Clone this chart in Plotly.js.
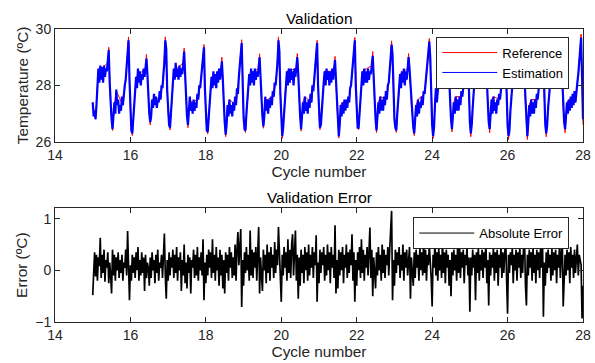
<!DOCTYPE html>
<html>
<head>
<meta charset="utf-8">
<script src="https://cdn.plot.ly/plotly-3.0.1.min.js"></script>
<style>html,body{margin:0;padding:0;background:#fff;}#chart{width:595px;height:363px;}</style>
</head>
<body>
<div id="chart"></div>
<script>
// Sample span (cycle number) of the recorded series
const cycleStart = 15;
const cycleEnd = 28;

// Estimated temperature (ºC), evenly sampled from cycle 15 to 28
const estimation = [
 27.4, 26.9, 27.1, 26.8, 27.3, 28.0, 28.6, 28.1, 28.7, 28.2,
 28.65, 28.1, 28.7, 28.3, 28.6, 28.5, 29.0, 29.25, 28.1, 27.2,
 26.8, 26.45, 27.1, 27.4, 27.0, 27.85, 27.3, 27.5, 27.0, 27.3,
 27.1, 27.6, 27.3, 27.8, 28.0, 28.2, 28.6, 29.0, 29.6, 28.2,

 27.0, 26.4, 26.3, 26.9, 27.5, 28.0, 28.3, 27.9, 28.6, 28.1,
 28.5, 28.0, 28.4, 28.2, 28.6, 28.3, 28.7, 28.95, 28.4, 27.6,
 27.0, 26.7, 26.9, 27.5, 27.2, 27.7, 27.3, 27.6, 27.2, 27.5,
 27.4, 27.8, 27.5, 28.0, 27.9, 28.4, 28.8, 29.6, 29.3, 27.8,

 27.0, 26.6, 26.5, 27.1, 27.6, 28.2, 28.6, 28.2, 28.8, 28.3,
 28.6, 28.2, 28.7, 28.3, 28.6, 28.4, 28.9, 29.2, 28.4, 27.5,
 26.9, 26.6, 27.0, 27.6, 27.1, 27.4, 27.0, 27.5, 27.1, 27.4,
 27.2, 27.7, 27.5, 28.0, 27.9, 28.3, 28.6, 29.0, 29.35, 27.9,

 26.8, 26.4, 26.35, 26.9, 27.4, 27.9, 28.3, 27.9, 28.5, 28.0,
 28.4, 27.9, 28.5, 28.1, 28.6, 28.2, 28.6, 28.85, 28.2, 27.3,
 26.7, 26.25, 26.6, 27.3, 26.9, 27.5, 27.0, 27.3, 26.9, 27.4,
 27.1, 27.6, 27.3, 27.9, 27.7, 28.3, 28.6, 29.1, 29.5, 28.0,

 26.9, 26.45, 26.4, 27.0, 27.5, 28.0, 28.4, 28.0, 28.6, 28.1,
 28.5, 28.0, 28.6, 28.2, 28.5, 28.3, 28.7, 29.0, 28.3, 27.4,
 26.9, 26.55, 26.9, 27.6, 27.1, 27.5, 27.0, 27.5, 27.2, 27.6,
 27.3, 27.8, 27.6, 28.1, 28.0, 28.4, 28.8, 29.6, 29.2, 27.7,

 26.6, 26.2, 26.5, 27.1, 27.7, 28.2, 28.5, 28.0, 28.6, 28.1,
 28.6, 28.2, 28.5, 28.0, 28.6, 28.3, 28.7, 29.0, 28.4, 27.5,
 26.9, 26.45, 26.8, 27.4, 27.0, 27.6, 27.1, 27.4, 27.0, 27.5,
 27.2, 27.7, 27.4, 28.0, 27.8, 28.3, 28.7, 29.1, 29.5, 28.0,

 26.9, 26.5, 26.6, 27.2, 27.8, 28.1, 28.5, 28.0, 28.6, 28.2,
 28.5, 28.0, 28.5, 28.1, 28.6, 28.2, 28.6, 28.9, 28.2, 27.3,
 26.7, 26.2, 26.6, 27.3, 26.9, 27.4, 27.0, 27.5, 27.1, 27.5,
 27.2, 27.6, 27.4, 27.9, 28.0, 28.4, 28.8, 29.2, 29.6, 28.0,

 26.9, 26.5, 26.5, 27.1, 27.7, 28.2, 28.5, 28.0, 28.6, 28.1,
 28.5, 28.1, 28.6, 28.2, 28.5, 28.4, 28.8, 29.05, 28.3, 27.4,
 26.8, 26.4, 26.8, 27.4, 27.0, 27.6, 27.1, 27.5, 27.1, 27.6,
 27.3, 27.8, 27.5, 28.0, 28.1, 28.5, 28.9, 29.45, 29.1, 27.8,

 26.8, 26.5, 26.4, 27.0, 27.6, 28.1, 28.4, 27.9, 28.5, 28.1,
 28.6, 28.0, 28.5, 28.2, 28.7, 29.0, 28.6, 28.0, 27.3, 26.8,
 26.5, 26.3, 26.7, 27.3, 26.9, 27.5, 27.0, 27.4, 27.2, 27.6,
 27.3, 27.8, 27.7, 28.1, 28.3, 28.7, 29.1, 29.55, 29.0, 27.6,

 26.6, 26.2, 26.5, 27.3, 27.9, 27.4, 27.8, 28.2, 28.6, 28.1,
 28.6, 28.2, 28.7, 28.3, 28.6, 28.4, 28.8, 29.1, 28.3, 27.4,
 26.8, 26.45, 26.9, 27.4, 27.0, 27.6, 27.1, 27.5, 27.1, 27.6,
 27.3, 27.8, 27.6, 28.1, 28.2, 28.6, 29.0, 29.4, 29.1, 27.6,

 26.7, 26.3, 26.6, 27.2, 27.8, 28.2, 28.5, 28.0, 28.6, 28.1,
 28.5, 28.1, 28.6, 28.2, 28.6, 28.5, 28.9, 29.1, 28.2, 27.3,
 26.7, 26.45, 26.9, 27.5, 27.0, 27.6, 27.1, 27.4, 27.0, 27.5,
 27.3, 27.7, 27.5, 28.0, 28.2, 28.6, 29.0, 29.4, 29.0, 27.5,

 26.6, 26.2, 26.4, 27.1, 27.6, 28.1, 28.4, 28.0, 28.5, 28.0,
 28.5, 28.1, 28.6, 28.2, 28.5, 28.4, 28.8, 29.0, 28.2, 27.3,
 26.7, 26.2, 26.7, 27.3, 26.9, 27.5, 27.0, 27.4, 27.0, 27.5,
 27.2, 27.7, 27.5, 28.0, 28.2, 28.6, 29.0, 29.4, 28.9, 27.5,

 26.6, 26.3, 26.6, 27.2, 27.7, 28.1, 28.4, 28.0, 28.5, 28.1,
 28.6, 28.1, 28.5, 28.2, 28.5, 28.6, 28.9, 29.0, 28.1, 27.2,
 26.7, 26.45, 26.9, 27.4, 27.0, 27.5, 27.1, 27.6, 27.2, 27.7,
 27.3, 27.8, 27.4, 27.9, 28.1, 28.4, 28.8, 29.3, 29.7, 28.3,
 26.8
];

// Reference temperature (ºC): cycle positions and values read at its turning points
const refX = [
 15.0, 15.075, 15.125, 15.15, 15.4, 15.425, 15.475, 15.525, 15.575, 15.625, 15.8, 15.875, 15.95, 15.975, 16.0,
 16.05, 16.1, 16.15, 16.4, 16.425, 16.475, 16.525, 16.575, 16.625, 16.8, 16.875, 16.925, 16.975, 17.0,
 17.05, 17.1, 17.15, 17.4, 17.425, 17.475, 17.525, 17.575, 17.625, 17.8, 17.875, 17.95, 17.975, 18.0,
 18.05, 18.1, 18.15, 18.4, 18.425, 18.475, 18.525, 18.575, 18.625, 18.8, 18.875, 18.95, 18.975, 19.0,
 19.05, 19.1, 19.15, 19.4, 19.425, 19.475, 19.525, 19.575, 19.625, 19.8, 19.875, 19.925, 19.975,
 20.025, 20.1, 20.15, 20.4, 20.425, 20.475, 20.525, 20.575, 20.625, 20.8, 20.875, 20.95, 20.975, 21.0,
 21.025, 21.1, 21.15, 21.4, 21.425, 21.475, 21.525, 21.575, 21.625, 21.8, 21.875, 21.95, 21.975, 22.0,
 22.05, 22.1, 22.15, 22.4, 22.425, 22.475, 22.525, 22.575, 22.625, 22.8, 22.875, 22.925, 22.975, 23.0,
 23.05, 23.1, 23.15, 23.35, 23.375, 23.45, 23.525, 23.575, 23.625, 23.8, 23.875, 23.925, 23.975,
 24.025, 24.1, 24.15, 24.2, 24.4, 24.425, 24.475, 24.525, 24.575, 24.625, 24.8, 24.875, 24.925, 24.975,
 25.025, 25.1, 25.15, 25.4, 25.425, 25.475, 25.525, 25.575, 25.625, 25.8, 25.875, 25.925, 25.975,
 26.025, 26.1, 26.15, 26.4, 26.425, 26.475, 26.525, 26.575, 26.625, 26.8, 26.875, 26.925, 26.975,
 27.025, 27.1, 27.15, 27.4, 27.425, 27.475, 27.525, 27.575, 27.625, 27.8, 27.875, 27.95, 27.975, 28.0
];
const refY = [
 27.4, 26.8, 28.0, 28.5, 28.8, 29.35, 27.2, 26.4, 27.3, 27.8, 27.3, 28.2, 29.72, 28.2, 27.0,
 26.22, 27.5, 28.3, 28.6, 29.1, 27.6, 26.6, 27.4, 27.6, 27.5, 28.4, 29.72, 27.8, 27.0,
 26.42, 27.6, 28.5, 28.8, 29.32, 27.5, 26.5, 27.5, 27.4, 27.5, 28.3, 29.45, 27.9, 26.8,
 26.28, 27.4, 28.3, 28.5, 29.0, 27.3, 26.18, 27.2, 27.5, 27.3, 28.3, 29.62, 28.0, 26.9,
 26.33, 27.5, 28.4, 28.6, 29.12, 27.4, 26.48, 27.5, 27.5, 27.6, 28.4, 29.72, 27.7,
 26.12, 27.7, 28.5, 28.6, 29.13, 27.5, 26.38, 27.4, 27.6, 27.4, 28.3, 29.6, 28.0, 26.9,
 26.43, 27.8, 28.5, 28.5, 29.03, 27.3, 26.13, 27.3, 27.4, 27.4, 28.4, 29.7, 28.0, 26.9,
 26.43, 27.7, 28.5, 28.7, 29.2, 27.4, 26.33, 27.4, 27.6, 27.5, 28.5, 29.58, 27.8, 26.8,
 26.33, 27.6, 28.4, 28.6, 29.13, 27.3, 26.22, 27.3, 27.5, 27.7, 28.7, 29.66, 27.6,
 26.12, 27.9, 27.8, 28.6, 28.7, 29.22, 27.4, 26.35, 27.4, 27.6, 27.6, 28.6, 29.52, 27.6,
 26.18, 27.8, 28.5, 28.8, 29.22, 27.3, 26.32, 27.5, 27.6, 27.5, 28.6, 29.52, 27.5,
 26.08, 27.6, 28.4, 28.7, 29.12, 27.3, 26.08, 27.3, 27.5, 27.5, 28.6, 29.52, 27.5,
 26.18, 27.7, 28.4, 28.8, 29.12, 27.2, 26.32, 27.4, 27.5, 27.4, 28.4, 29.82, 28.3, 26.6
];

// Absolute error (ºC), same sampling as the estimation
const errorValues = [
 -0.48, 0.05, 0.35, -0.12, 0.30, -0.20, 0.25, 0.08, 0.63, -0.15,
 0.30, -0.05, 0.40, -0.22, 0.20, 0.05, 0.35, -0.25, 0.15, -0.10,
 -0.45, 0.40, -0.10, 0.30, -0.20, 0.25, 0.00, 0.35, -0.15, 0.20,
 -0.05, 0.30, -0.20, 0.15, 0.05, 0.40, -0.10, 0.76, 0.20, -0.58,

 0.10, -0.20, 0.30, -0.05, 0.25, -0.15, 0.35, 0.00, 0.45, -0.20,
 0.20, -0.10, 0.35, -0.05, 0.25, -0.40, 0.30, -0.15, 0.15, 0.05,
 -0.30, 0.25, -0.15, 0.35, 0.00, 0.20, -0.25, 0.30, -0.05, 0.40,
 -0.20, 0.15, 0.05, 0.30, -0.15, 0.35, 0.71, -0.10, -0.55, 0.20,

 -0.20, 0.35, -0.10, 0.25, 0.05, 0.40, -0.15, 0.30, -0.05, 0.45,
 -0.20, 0.25, 0.00, 0.35, -0.40, 0.20, -0.10, 0.50, -0.25, 0.15,
 -0.35, 0.30, -0.05, 0.25, -0.45, 0.20, 0.05, 0.40, -0.15, 0.30,
 -0.10, 0.45, -0.20, 0.25, 0.00, 0.35, -0.10, 0.60, -0.58, 0.15,

 -0.25, 0.30, -0.10, 0.40, 0.05, 0.35, -0.15, 0.60, -0.05, 0.30,
 -0.20, 0.45, 0.00, 0.25, -0.30, 0.40, -0.10, 0.30, -0.35, 0.20,
 -0.45, 0.35, -0.05, 0.30, -0.20, 0.45, 0.05, 0.35, -0.15, 0.25,
 -0.10, 0.50, -0.20, 0.40, 0.74, 0.10, 0.45, 0.80, -0.71, 0.20,

 -0.30, 0.35, -0.05, 0.45, 0.00, 0.30, -0.20, 0.77, -0.10, 0.40,
 -0.15, 0.35, 0.05, 0.45, -0.20, 0.30, 0.84, -0.45, 0.25, -0.10,
 -0.40, 0.40, 0.00, 0.30, -0.25, 0.50, -0.05, 0.35, -0.20, 0.45,
 0.05, 0.30, -0.15, 0.55, -0.05, 0.40, 0.10, 0.84, 0.20, -0.20,

 -0.61, 0.30, -0.10, 0.45, 0.05, 0.35, -0.20, 0.60, -0.05, 0.40,
 -0.15, 0.50, 0.70, -0.10, 0.35, 0.77, -0.20, 0.30, -0.55, 0.25,
 -0.30, 0.40, -0.05, 0.30, -0.25, 0.45, 0.00, 0.35, -0.20, 0.50,
 -0.10, 0.30, 0.05, 0.45, -0.15, 0.35, 0.10, 0.68, -0.61, 0.15,

 -0.25, 0.40, -0.05, 0.35, 0.10, 0.45, -0.20, 0.30, -0.10, 0.50,
 0.00, 0.35, -0.25, 0.45, 0.05, 0.30, -0.15, 0.87, -0.45, 0.20,
 -0.35, 0.40, -0.10, 0.35, 0.00, 0.45, -0.25, 0.30, 0.05, 0.50,
 -0.15, 0.35, -0.05, 0.40, 0.10, 0.70, -0.20, 0.35, -0.61, 0.20,

 -0.30, 0.35, 0.00, 0.45, -0.15, 0.60, -0.05, 0.40, -0.20, 0.30,
 0.05, 0.45, -0.10, 0.35, 0.83, -0.15, 0.40, -0.50, 0.25, -0.05,
 -0.35, 0.35, -0.10, 0.45, 0.00, 0.30, -0.20, 0.50, -0.05, 0.40,
 -0.15, 0.30, 0.10, 0.45, -0.10, 0.40, 0.68, 1.15, -0.58, 0.20,

 -0.30, 0.40, -0.05, 0.35, 0.10, 0.45, -0.15, 0.30, 0.00, 0.50,
 -0.20, 0.35, 0.05, 0.40, -0.10, 0.30, 0.45, -0.55, 0.25, -0.05,
 -0.30, 0.35, -0.15, 0.40, 0.05, 0.30, -0.20, 0.45, 0.00, 0.35,
 -0.10, 0.60, -0.05, 0.40, -0.20, 0.30, 0.10, 0.50, 0.20, -0.15,

 -0.70, 0.30, 0.05, 0.58, -0.10, 0.35, -0.20, 0.45, 0.00, 0.30,
 -0.15, 0.60, -0.05, 0.35, -0.25, 0.40, 0.05, 0.30, -0.30, 0.20,
 -0.50, 0.35, -0.10, 0.40, 0.00, 0.30, -0.20, 0.45, -0.05, 0.58,
 -0.15, 0.35, 0.05, 0.40, -0.25, 0.30, 0.10, 0.45, -0.10, 0.25,

 -0.80, 0.25, -0.10, 0.40, 0.05, 0.30, -0.58, 0.35, -0.05, 0.45,
 -0.20, 0.30, 0.00, 0.40, -0.15, 0.35, 0.05, 0.60, -0.25, 0.20,
 -0.68, 0.35, -0.10, 0.30, 0.05, 0.45, -0.20, 0.35, -0.05, 0.40,
 -0.30, 0.30, 0.05, 0.45, -0.15, 0.35, -0.05, 0.40, 0.68, -0.20,

 -0.84, 0.30, -0.05, 0.35, 0.10, 0.45, -0.25, 0.30, 0.00, 0.40,
 -0.20, 0.35, 0.05, 0.45, -0.15, 0.30, -0.05, 0.50, 0.60, -0.30,
 -0.68, 0.30, -0.10, 0.40, 0.05, 0.35, -0.20, 0.45, -0.05, 0.30,
 -0.25, 0.40, 0.00, 0.35, -0.15, 0.45, 0.05, 0.70, -0.90, 0.15,

 -0.30, 0.35, -0.05, 0.40, 0.05, 0.30, -0.20, 0.45, -0.10, 0.35,
 0.00, 0.40, -0.25, 0.30, 0.05, 0.45, -0.15, 0.35, 0.65, -0.70,
 -0.20, 0.30, -0.10, 0.40, 0.00, 0.35, -0.25, 0.45, 0.05, 0.30,
 -0.15, 0.40, -0.05, 0.35, 0.50, -0.10, 0.30, 0.20, 0.10, -0.93,
 -0.30
];

const xTickVals = [14, 16, 18, 20, 22, 24, 26, 28];
const tempTickVals = [26, 28, 30];
const errTickVals = [-1, 0, 1];

const sampleX = arr => arr.map((_, i) => cycleStart + i * (cycleEnd - cycleStart) / (arr.length - 1));

const axisColor = '#262626';
const fontFamily = '"Liberation Sans", Arial, Helvetica, sans-serif';
const red = '#FF0000', blue = '#0000FF', black = '#000000';

const baseX = {
  range: [14, 28], tickvals: xTickVals, ticks: 'inside', ticklen: 5, tickwidth: 1,
  tickcolor: axisColor, showline: true, linecolor: axisColor, linewidth: 1,
  mirror: 'ticks', showgrid: false, zeroline: false,
  tickfont: {size: 14, color: axisColor}
};
const baseY = {
  ticks: 'inside', ticklen: 5, tickwidth: 1, tickcolor: axisColor,
  showline: true, linecolor: axisColor, linewidth: 1, mirror: 'ticks',
  showgrid: false, zeroline: false, tickfont: {size: 14, color: axisColor}
};

// Legend keys: thin line samples, as in the reference legend (they carry no data)
const legendKey = (name, color, xa, ya, lg) => ({
  x: [null], y: [null], type: 'scatter', mode: 'lines', name: name,
  line: {color: color, width: 1}, xaxis: xa, yaxis: ya, legend: lg, hoverinfo: 'skip'
});

const traces = [
  {x: refX, y: refY, type: 'scatter', mode: 'lines', name: 'Reference', showlegend: false,
   line: {color: red, width: 1}, xaxis: 'x', yaxis: 'y'},
  {x: sampleX(estimation), y: estimation, type: 'scatter', mode: 'lines', name: 'Estimation', showlegend: false,
   line: {color: blue, width: 2.2}, xaxis: 'x', yaxis: 'y'},
  {x: sampleX(errorValues), y: errorValues, type: 'scatter', mode: 'lines', name: 'Absolute Error', showlegend: false,
   line: {color: black, width: 1.7}, xaxis: 'x2', yaxis: 'y2'},
  legendKey('Reference', red, 'x', 'y', 'legend'),
  legendKey('Estimation', blue, 'x', 'y', 'legend'),
  legendKey('Absolute Error', black, 'x2', 'y2', 'legend2')
];

const layout = {
  width: 595, height: 363,
  margin: {l: 55, r: 12, t: 29, b: 41},
  paper_bgcolor: '#ffffff', plot_bgcolor: '#ffffff',
  font: {family: fontFamily, size: 14, color: axisColor},
  showlegend: true,
  xaxis: Object.assign({}, baseX, {anchor: 'y', domain: [0, 1],
    title: {text: 'Cycle number', font: {size: 15.4, color: axisColor}, standoff: 4}}),
  yaxis: Object.assign({}, baseY, {anchor: 'x', domain: [0.615, 1], range: [26, 30], tickvals: tempTickVals,
    title: {text: 'Temperature (ºC)', font: {size: 15.4, color: axisColor}, standoff: 3}}),
  xaxis2: Object.assign({}, baseX, {anchor: 'y2', domain: [0, 1],
    title: {text: 'Cycle number', font: {size: 15.4, color: axisColor}, standoff: 4}}),
  yaxis2: Object.assign({}, baseY, {anchor: 'x2', domain: [0, 0.388], range: [-1, 1.2], tickvals: errTickVals,
    title: {text: 'Error (ºC)', font: {size: 15.4, color: axisColor}, standoff: 3}}),
  legend: {x: 0.974, xanchor: 'right', y: 0.974, yanchor: 'top', bgcolor: '#ffffff',
    bordercolor: axisColor, borderwidth: 1, font: {size: 13, color: '#000000'}, itemwidth: 55},
  legend2: {x: 0.974, xanchor: 'right', y: 0.358, yanchor: 'top', bgcolor: '#ffffff',
    bordercolor: axisColor, borderwidth: 1, font: {size: 13, color: '#000000'}, itemwidth: 55},
  annotations: [
    {text: 'Validation', xref: 'paper', yref: 'paper', x: 0.5, y: 1.036, xanchor: 'center', yanchor: 'middle',
     showarrow: false, font: {size: 15.4, color: '#000000'}},
    {text: 'Validation Error', xref: 'paper', yref: 'paper', x: 0.5, y: 0.4266, xanchor: 'center', yanchor: 'middle',
     showarrow: false, font: {size: 15.4, color: '#000000'}}
  ]
};

Plotly.newPlot('chart', traces, layout, {displayModeBar: false, staticPlot: true});
</script>
</body>
</html>
